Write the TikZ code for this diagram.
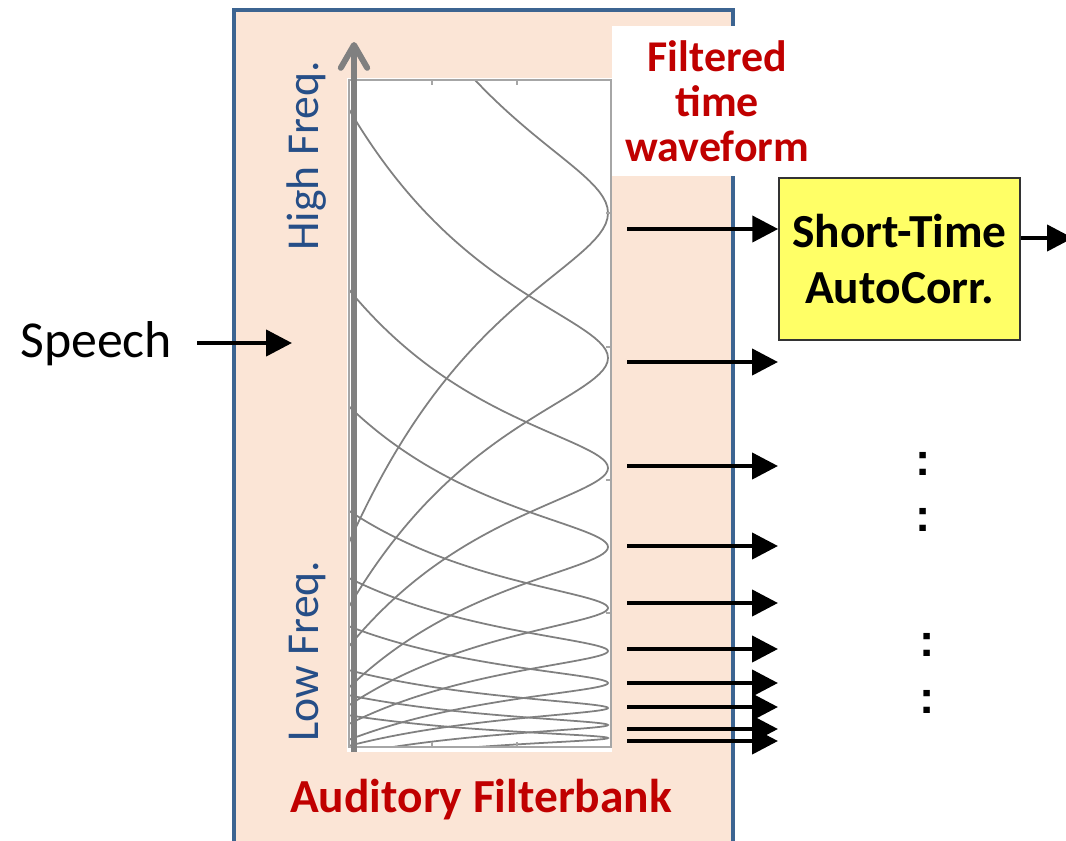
\documentclass[tikz,border=0pt]{standalone}
\usepackage{fontspec}
\setmainfont{Carlito}
\newfontfamily\dotfont{Liberation Sans}
\usetikzlibrary{arrows.meta}

\definecolor{bankfill}{RGB}{251,229,214}
\definecolor{bankline}{RGB}{60,100,145}
\definecolor{labred}{RGB}{192,0,0}
\definecolor{freqblue}{RGB}{38,78,135}
\definecolor{acfyellow}{RGB}{255,255,102}

\begin{document}
\begin{tikzpicture}[
  x=0.02cm, y=-0.02cm,
  arr/.style={line width=2.45pt, -{Triangle[length=14.7pt, width=14.7pt]}},
  axisarr/.style={line width=3.4pt, black!50, -{Straight Barb[length=13pt, width=15pt, round]}},
  bankbox/.style={draw=bankline, fill=bankfill, line width=2.3pt},
  resp/.style={black!50, line width=1pt},
  frame/.style={black!35, line width=0.6pt},
  freqlbl/.style={font=\fontsize{26}{30}\selectfont, text=freqblue, inner sep=0pt},
  redlbl/.style={font=\fontsize{27}{32}\selectfont\bfseries, text=labred},
  acfbox/.style={draw=black!80, fill=acfyellow, line width=0.9pt,
                 minimum width=4.82cm, minimum height=3.24cm, align=center,
                 font=\fontsize{27}{32}\selectfont\bfseries},
  dots/.style={font=\dotfont\fontsize{26}{30}\selectfont\bfseries, inner sep=0pt},
]
\useasboundingbox (0,0) rectangle (1066,840);

%% ── filterbank block ─────────────────────────────────────────────
\draw[bankbox] (234,10) rectangle (733,870);

% response plot
\fill[white] (347,78) rectangle (612,752);
\begin{scope}
  \clip (349,80) rectangle (611,747);
  \foreach \pk/\bw in {213/61, 358/46, 468/33, 547/26, 608/18,
                       651/13.5, 683/10.5, 708/7, 725/5.5, 738/4.2}
    \draw[resp] plot[domain=-7:7, samples=161]
      ({608-76*ln(1+(\x)*(\x))}, {\pk+\bw*\x});
\end{scope}
\draw[frame] (349,80) rectangle (611,747);
\foreach \tx in {432,517} {
  \draw[frame] (\tx,80) -- (\tx,85);
  \draw[frame] (\tx,747) -- (\tx,742);
}
\foreach \ty in {213,347,480,613}
  \draw[frame] (611,\ty) -- (606,\ty);

% frequency axis
\coordinate (axbot) at (354,752);
\coordinate (axtop) at (354,42);
\draw[axisarr] (axbot) -- (axtop);
\node[freqlbl, rotate=90, anchor=base] (hifreq) at (318,156) {High Freq.};
\node[freqlbl, rotate=90, anchor=base] (lofreq) at (318,651) {Low Freq.};

\node[redlbl, anchor=base] (bankname) at (481,812) {Auditory Filterbank};

%% ── outputs label ────────────────────────────────────────────────
\node[fill=white, text=labred, align=center, anchor=north west,
      minimum width=4.2cm, minimum height=3cm,
      font=\fontsize{25}{25.5}\selectfont\bfseries] (wave) at (612,26)
  {Filtered\\time\\waveform};

%% ── input ────────────────────────────────────────────────────────
\node[font=\fontsize{29.5}{34}\selectfont, anchor=base west, inner sep=0pt]
  (speech) at (20,357) {Speech};
\coordinate (speechin) at (292,343);
\draw[arr, shorten <=14pt] (speech.east |- speechin) -- (speechin);

%% ── autocorrelation stage ────────────────────────────────────────
\node[acfbox] (acf) at (899.5,259) {Short-Time\\AutoCorr.};
\coordinate (acfout) at (1073,238);
\draw[arr] (acf.east |- acfout) -- (acfout);

% one arrow per channel
\foreach \ay [count=\i] in {229,362,466,546,603,649,683,707,729,741} {
  \coordinate (src\i) at (627,\ay);
  \coordinate (dst\i) at (778,\ay);
}
\draw[arr] (src1) -- (acf.west |- src1);
\foreach \i in {2,...,10}
  \draw[arr] (src\i) -- (dst\i);

% remaining channels
\foreach \dx/\dy [count=\i] in {923/464, 923/520, 927/645, 927/702}
  \node[dots] (more\i) at (\dx,\dy) {:};

\end{tikzpicture}
\end{document}
